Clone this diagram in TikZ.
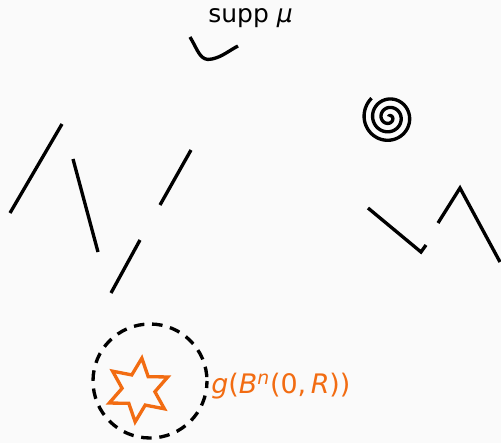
\documentclass[tikz,border=0pt]{standalone}
\usepackage{fontspec}
\setmainfont{DejaVu Sans}
\definecolor{bg}{RGB}{250,250,250}
\definecolor{orng}{RGB}{242,108,18}
\begin{document}
\begin{tikzpicture}[x=0.02cm,y=-0.02cm,
  seg/.style={line width=1.9pt,line cap=butt,line join=miter},
  lbl/.style={inner sep=0pt,anchor=west}]
\fill[bg] (0,0) rectangle (501,443);
\useasboundingbox (0,0) rectangle (501,443);
% support label
\node[lbl,font=\fontsize{14.2}{17}\selectfont] (supp) at (208,18) {supp \textit{μ}};
\draw[seg] (190,37) .. controls (198,50) and (200,62) .. (212,59) .. controls (222,57) and (230,50) .. (238,46);
% segments
\draw[seg] (10,213) -- (62,124);
\draw[seg] (73,159) -- (98,252);
\draw[seg] (160,205) -- (191,150);
\draw[seg] (111,293) -- (140,240);
% spiral
\draw[seg,line cap=butt] plot[domain=228:-830,samples=240,smooth,variable=\a]
  ({389+(26-8.5*(228-\a)/360)*cos(\a)},{117.5+(26-8.5*(228-\a)/360)*sin(\a)});
% zigzag
\draw[seg] (368,208) -- (421,252) -- (426,245);
\draw[seg] (438,223) -- (460,188) -- (500,262);
% dashed circle
\draw[seg,dash pattern=on 6pt off 4.4pt,dash phase=2pt] (150,381) circle[radius=57];
% star
\draw[seg,orng,line join=miter] plot[samples at={0,...,11},variable=\k]
  ({138.5+(mod(\k,2)==0 ? 32 : 16.5)*sin(6+30*\k)},{390-(mod(\k,2)==0 ? 32 : 16.5)*cos(6+30*\k)}) -- cycle;
\node[lbl,text=orng,font=\fontsize{15.3}{18}\selectfont] (gB) at (211,386) {\textit{g}(\textit{B}\textsuperscript{\textit{n}}(0,\,\textit{R}))};
\end{tikzpicture}
\end{document}
